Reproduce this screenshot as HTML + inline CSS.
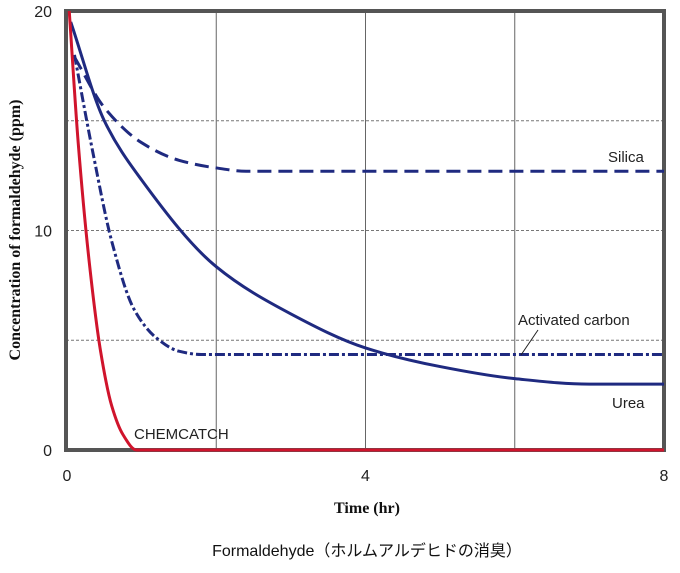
<!DOCTYPE html>
<html><head><meta charset="utf-8"><style>
body{margin:0;background:#fff;width:680px;height:568px;overflow:hidden}
svg text{font-family:"Liberation Sans","Noto Sans CJK JP",sans-serif}
</style></head><body>
<svg id="chart" width="680" height="568" viewBox="0 0 680 568" xmlns="http://www.w3.org/2000/svg">
<g id="grid"></g>
<rect x="66" y="11" width="598" height="439" fill="none" stroke="#555" stroke-width="4"/>
<g id="series"></g>
<g id="ticks"></g>
<text x="608" y="162" font-size="15" fill="#222">Silica</text>
<text x="518" y="325" font-size="15" fill="#222">Activated carbon</text>
<line x1="521" y1="355" x2="538" y2="330" stroke="#222" stroke-width="1"/>
<text x="612" y="408" font-size="15" fill="#222">Urea</text>
<text x="134" y="439" font-size="15" fill="#222">CHEMCATCH</text>
<text transform="translate(20,230) rotate(-90)" text-anchor="middle" font-size="16" font-weight="bold" style="font-family:'Liberation Serif',serif" fill="#111">Concentration of formaldehyde (ppm)</text>
<text x="367" y="513" text-anchor="middle" font-size="16" font-weight="bold" style="font-family:'Liberation Serif',serif" fill="#111">Time (hr)</text>
<text x="367" y="556" text-anchor="middle" font-size="16" fill="#111">Formaldehyde（ホルムアルデヒドの消臭）</text>
</svg>
<script>
const xTicks=[0,4,8];
const xGrid=[2,4,6];
const yTicks=[0,10,20];
const yGrid=[5,10,15];
const chemcatchX=[0.03,0.15,0.3,0.45,0.6,0.75,0.93,8];
const chemcatchY=[20,14,8.5,4.5,2,0.7,0,0];
const silicaX=[0.1,0.5,1,1.5,2,2.4,8];
const silicaY=[17.9,15.6,14,13.2,12.85,12.7,12.7];
const ureaX=[0.05,0.5,1,2,3,4,5,6,7,8];
const ureaY=[19.5,15,12.3,8.35,6.2,4.65,3.8,3.25,3.0,3.0];
const carbonX=[0.1,0.35,0.6,0.9,1.2,1.5,1.8,8];
const carbonY=[18,13.5,9.5,6.4,5.1,4.5,4.35,4.35];
const X=v=>67+v*(664-67)/8;
const Y=v=>450-v*(450-11)/20;
const NS="http://www.w3.org/2000/svg";
const grid=document.getElementById('grid'),ticks=document.getElementById('ticks'),ser=document.getElementById('series');
xGrid.forEach(v=>{const l=document.createElementNS(NS,'line');


l.setAttribute('x1',X(v));l.setAttribute('x2',X(v));l.setAttribute('y1',11);l.setAttribute('y2',450);l.setAttribute('stroke','#666');l.setAttribute('stroke-width','1');grid.appendChild(l);});
yGrid.forEach(v=>{const l=document.createElementNS(NS,'line');


l.setAttribute('x1',66);l.setAttribute('x2',664);l.setAttribute('y1',Y(v));l.setAttribute('y2',Y(v));l.setAttribute('stroke','#777');l.setAttribute('stroke-dasharray','3,2');l.setAttribute('stroke-width','1');grid.appendChild(l);});
xTicks.forEach(v=>{const t=document.createElementNS(NS,'text');


t.setAttribute('x',X(v));t.setAttribute('y',481);t.setAttribute('text-anchor','middle');t.setAttribute('font-size','16');t.setAttribute('fill','#222');t.textContent=v;ticks.appendChild(t);});
yTicks.forEach(v=>{const t=document.createElementNS(NS,'text');


t.setAttribute('x',52);t.setAttribute('y',Y(v)+6);t.setAttribute('text-anchor','end');t.setAttribute('font-size','16');t.setAttribute('fill','#222');t.textContent=v;ticks.appendChild(t);});
function pathD(xs,ys){
const px=xs.map(X),py=ys.map(Y),n=px.length;
const d=[],m=[];
for(let i=0;i<n-1;i++)d.push((py[i+1]-py[i])/(px[i+1]-px[i]));
for(let i=0;i<n;i++){
 if(i===0)m.push(d[0]);else if(i===n-1)m.push(d[n-2]);
 else if(d[i-1]*d[i]<=0)m.push(0);
 else{const h0=px[i]-px[i-1],h1=px[i+1]-px[i];const w1=2*h1+h0,w2=h1+2*h0;m.push((w1+w2)/(w1/d[i-1]+w2/d[i]));}
}
let s='M'+px[0]+','+py[0];
for(let i=0;i<n-1;i++){const h=px[i+1]-px[i];
s+=' C'+(px[i]+h/3)+','+(py[i]+m[i]*h/3)+' '+(px[i+1]-h/3)+','+(py[i+1]-m[i+1]*h/3)+' '+px[i+1]+','+py[i+1];}
return s;}
function draw(name,xs,ys,color,dash){const el=document.createElementNS(NS,'path');


el.setAttribute('d',pathD(xs,ys));el.setAttribute('fill','none');el.setAttribute('stroke',color);el.setAttribute('stroke-width','3');if(dash)el.setAttribute('stroke-dasharray',dash);ser.appendChild(el);}
draw('silica-line',silicaX,silicaY,'#1f2a80','14,7');
draw('urea-line',ureaX,ureaY,'#1f2a80');
draw('activated-carbon-line',carbonX,carbonY,'#1f2a80','10,3,3,3');
draw('chemcatch-line',chemcatchX,chemcatchY,'#d0142c');
</script>
</body></html>
